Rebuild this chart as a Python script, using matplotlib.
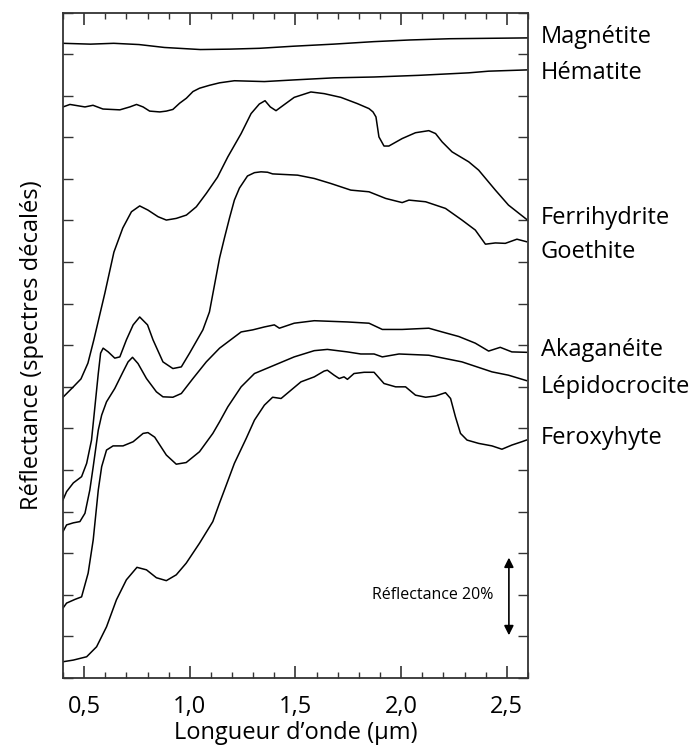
import matplotlib
matplotlib.use("Agg")
import matplotlib.pyplot as plt
from matplotlib.ticker import MultipleLocator, FixedLocator, FuncFormatter

plt.rcParams['font.family'] = ['Open Sans', 'DejaVu Sans']

# Spectres (longueur d'onde en µm, réflectance décalée en %)
magnetite_x = [0.40, 0.53, 0.64, 0.76, 0.88, 1.05, 1.19, 1.33, 1.49, 1.68, 1.87, 2.04, 2.23, 2.41, 2.60]
magnetite_y = [152.6, 152.4, 152.6, 152.3, 151.6, 151.1, 151.2, 151.4, 151.9, 152.4, 153.0, 153.4, 153.7, 153.8, 153.9]

hematite_x = [0.400, 0.433, 0.504, 0.542, 0.589, 0.669, 0.716, 0.748, 0.779, 0.810, 0.858, 0.889, 0.920,
              0.952, 0.984, 1.015, 1.046, 1.093, 1.141, 1.211, 1.353, 1.494, 1.683, 1.872, 2.084, 2.320,
              2.414, 2.593]
hematite_y = [137.3, 137.9, 137.3, 137.7, 136.8, 136.6, 137.3, 137.9, 137.3, 136.3, 136.1, 136.3, 136.7,
              138.2, 139.4, 141.0, 141.8, 142.5, 143.1, 143.6, 143.4, 143.8, 144.3, 144.5, 144.9, 145.5,
              145.9, 146.2]

ferrihydrite_x = [0.400, 0.447, 0.485, 0.518, 0.546, 0.598, 0.641, 0.683, 0.724, 0.763, 0.802, 0.850, 0.889,
                  0.936, 0.984, 1.031, 1.078, 1.131, 1.180, 1.243, 1.290, 1.329, 1.356, 1.381, 1.408, 1.432,
                  1.494, 1.573, 1.636, 1.715, 1.793, 1.848, 1.867, 1.881, 1.895, 1.919, 1.942, 2.005, 2.068,
                  2.131, 2.163, 2.194, 2.241, 2.320, 2.367, 2.446, 2.508, 2.593]
ferrihydrite_y = [67.5, 69.9, 71.9, 75.7, 81.3, 92.5, 102.4, 108.2, 112.1, 113.5, 112.5, 110.9, 110.1,
                  110.5, 111.3, 113.3, 116.5, 120.4, 125.3, 130.9, 135.7, 138.0, 138.8, 137.3, 136.4, 137.3,
                  139.6, 140.9, 140.5, 139.6, 138.1, 136.9, 136.1, 134.9, 130.1, 127.9, 127.9, 129.7, 131.1,
                  131.6, 130.9, 128.9, 126.5, 124.1, 122.1, 117.3, 113.7, 110.3]

goethite_x = [0.400, 0.417, 0.449, 0.488, 0.512, 0.535, 0.551, 0.567, 0.578, 0.590, 0.614, 0.645, 0.669,
              0.700, 0.732, 0.763, 0.800, 0.826, 0.873, 0.920, 0.960, 0.999, 1.062, 1.093, 1.117, 1.141,
              1.164, 1.188, 1.211, 1.235, 1.273, 1.306, 1.337, 1.368, 1.392, 1.510, 1.589, 1.667, 1.762,
              1.848, 1.927, 2.005, 2.037, 2.116, 2.210, 2.288, 2.351, 2.399, 2.446, 2.493, 2.548, 2.593]
goethite_y = [42.8, 44.8, 46.9, 48.4, 51.6, 57.2, 65.2, 73.2, 78.1, 79.3, 78.4, 76.9, 77.2,
              81.3, 84.9, 86.8, 84.9, 81.3, 76.0, 74.4, 74.8, 78.1, 83.7, 88.0, 94.5, 101.0,
              105.8, 110.6, 114.9, 117.8, 120.7, 121.5, 121.7, 121.6, 121.2, 120.9, 120.1, 118.9, 117.3,
              116.9, 115.3, 114.3, 114.9, 114.5, 112.9, 110.1, 107.7, 104.3, 104.6, 104.5, 105.5, 104.9]

akaganeite_x = [0.400, 0.417, 0.449, 0.480, 0.504, 0.527, 0.543, 0.567, 0.583, 0.606, 0.645, 0.684, 0.708,
                0.729, 0.755, 0.795, 0.842, 0.873, 0.920, 0.960, 1.015, 1.078, 1.141, 1.243, 1.298, 1.353,
                1.400, 1.424, 1.494, 1.589, 1.746, 1.848, 1.911, 2.005, 2.131, 2.194, 2.273, 2.351, 2.414,
                2.469, 2.524, 2.593]
akaganeite_y = [35.2, 36.8, 37.3, 37.6, 39.6, 45.2, 50.8, 59.6, 63.2, 66.4, 69.6, 73.6, 76.0,
                77.1, 75.6, 72.0, 68.8, 67.6, 67.5, 68.4, 72.0, 76.0, 79.3, 83.2, 83.7, 84.4,
                84.9, 84.1, 85.3, 85.9, 85.6, 85.3, 83.8, 83.8, 84.1, 83.2, 82.1, 80.5, 78.6,
                79.5, 78.4, 78.3]

lepidocrocite_x = [0.400, 0.417, 0.457, 0.488, 0.519, 0.543, 0.567, 0.583, 0.606, 0.637, 0.684, 0.732, 0.779,
                   0.802, 0.834, 0.889, 0.936, 0.983, 1.046, 1.109, 1.141, 1.180, 1.243, 1.306, 1.400, 1.494,
                   1.589, 1.651, 1.746, 1.809, 1.872, 1.911, 1.990, 2.131, 2.288, 2.430, 2.508, 2.593]
lepidocrocite_y = [16.8, 18.0, 18.9, 19.5, 25.2, 33.2, 45.2, 50.8, 54.8, 55.8, 55.8, 56.8, 58.8,
                   59.0, 57.9, 53.6, 51.4, 51.8, 54.4, 58.8, 61.6, 65.2, 70.0, 73.2, 75.2, 77.2,
                   78.7, 79.0, 78.4, 77.9, 77.9, 77.2, 77.9, 77.6, 76.0, 73.6, 72.8, 71.5]

feroxyhyte_x = [0.400, 0.449, 0.512, 0.559, 0.606, 0.653, 0.700, 0.750, 0.795, 0.842, 0.889, 0.936, 0.983,
                1.046, 1.109, 1.141, 1.164, 1.211, 1.267, 1.306, 1.353, 1.392, 1.432, 1.479, 1.526, 1.589,
                1.636, 1.651, 1.683, 1.707, 1.730, 1.746, 1.777, 1.825, 1.872, 1.919, 1.974, 2.021, 2.068,
                2.116, 2.163, 2.210, 2.234, 2.257, 2.281, 2.312, 2.367, 2.430, 2.477, 2.524, 2.571, 2.593]
feroxyhyte_y = [3.9, 4.3, 5.1, 7.5, 12.3, 18.8, 23.6, 26.6, 26.0, 24.1, 23.4, 24.8, 27.6,
                32.4, 37.6, 42.1, 45.2, 51.6, 57.6, 62.0, 65.6, 67.5, 67.2, 69.2, 71.2, 72.4,
                73.8, 74.0, 72.8, 72.0, 72.4, 71.8, 73.2, 73.5, 73.5, 70.8, 70.0, 70.0, 68.0,
                67.5, 67.8, 68.6, 67.2, 62.8, 58.8, 57.2, 56.4, 55.8, 55.0, 56.0, 56.8, 57.2]

names = ['Magnétite', 'Hématite', 'Ferrihydrite', 'Goethite', 'Akaganéite', 'Lépidocrocite', 'Feroxyhyte']
label_y = [154.1, 145.4, 110.6, 102.4, 78.8, 70.0, 57.7]

series = [(magnetite_x, magnetite_y), (hematite_x, hematite_y), (ferrihydrite_x, ferrihydrite_y),
          (goethite_x, goethite_y), (akaganeite_x, akaganeite_y), (lepidocrocite_x, lepidocrocite_y),
          (feroxyhyte_x, feroxyhyte_y)]

fig = plt.figure(figsize=(6.96, 7.46), dpi=100)
ax = fig.add_axes([0.0905, 0.0912, 0.668, 0.892])

for xs, ys in series:
    ax.plot(xs, ys, color='black', lw=1.1, solid_joinstyle='round')

ax.set_xlim(0.4, 2.6)
ax.set_ylim(0, 160)

ax.xaxis.set_major_locator(FixedLocator([0.5, 1.0, 1.5, 2.0, 2.5]))
ax.xaxis.set_minor_locator(MultipleLocator(0.1))
ax.xaxis.set_major_formatter(FuncFormatter(lambda v, p: f"{v:.1f}".replace('.', ',')))
ax.yaxis.set_major_locator(MultipleLocator(10))
ax.set_yticklabels([])

ax.tick_params(axis='both', which='both', direction='in', top=True, right=True, color='#333333')
ax.tick_params(axis='x', which='major', length=8.6, width=1.2, labelsize=17, pad=12)
ax.tick_params(axis='x', which='minor', length=4.3, width=1.0)
ax.tick_params(axis='y', which='major', length=7, width=1.0, labelleft=False)
for sp in ax.spines.values():
    sp.set_color('#333333')
    sp.set_linewidth(1.3)

ax.set_xlabel("Longueur d\u2019onde (\u00b5m)", fontsize=17, labelpad=2)
ax.set_ylabel("Réflectance (spectres décalés)", fontsize=17, labelpad=14)

for name, yl in zip(names, label_y):
    ax.text(1.028, yl, name, transform=ax.get_yaxis_transform(), fontsize=17,
            ha='left', va='center')

# échelle de réflectance
ax.annotate('', xy=(2.51, 9.6), xytext=(2.51, 29.6),
            arrowprops=dict(arrowstyle='<|-|>', color='black', lw=1.2, mutation_scale=14))
ax.text(2.438, 20, 'Réflectance 20%', fontsize=11.5, ha='right', va='center')

fig.savefig('out.png', dpi=100)
